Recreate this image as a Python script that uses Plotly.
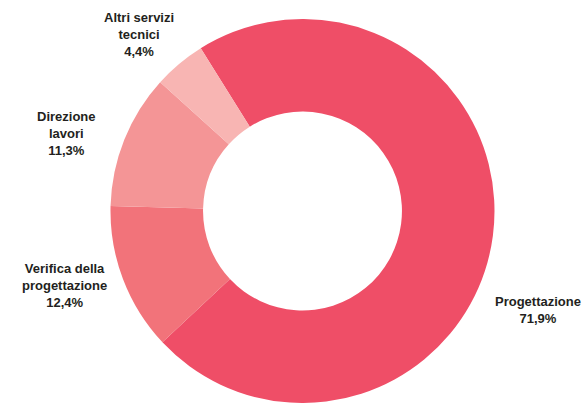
import plotly.graph_objects as go

# Shares of technical services (percent)
categories = ["Progettazione", "Verifica della progettazione", "Direzione lavori", "Altri servizi tecnici"]
values = [71.9, 12.4, 11.3, 4.4]
label_lines = [
    ["Progettazione"],
    ["Verifica della", "progettazione"],
    ["Direzione", "lavori"],
    ["Altri servizi", "tecnici"],
]
colors = ["#EF4E67", "#F2737A", "#F49596", "#F8B5B3"]

W, H = 586, 403

fig = go.Figure(
    go.Pie(
        labels=categories,
        values=values,
        hole=0.518,
        sort=False,
        direction="clockwise",
        rotation=-32,
        marker=dict(colors=colors, line=dict(width=0)),
        textinfo="none",
        hoverinfo="label+percent",
        showlegend=False,
        domain=dict(x=[110.5 / W, 494.5 / W], y=[0, 384 / H]),
    )
)

# Label positions in pixels (centre of each text block)
label_pos = [(538, 310), (64, 285), (66, 133), (139, 34)]


def fmt(v):
    return f"{v:.1f}".replace(".", ",") + "%"


for lines, v, (px, py) in zip(label_lines, values, label_pos):
    fig.add_annotation(
        x=px / W,
        y=1 - py / H,
        xref="paper",
        yref="paper",
        text="<br>".join(lines + [fmt(v)]),
        showarrow=False,
        xanchor="center",
        yanchor="middle",
        align="center",
        font=dict(family="Liberation Sans, Arial, sans-serif", size=13, color="#231F20"),
    )

fig.update_layout(
    width=W,
    height=H,
    margin=dict(l=0, r=0, t=0, b=0),
    paper_bgcolor="white",
    plot_bgcolor="white",
    font=dict(family="Liberation Sans, Arial, sans-serif", size=13, color="#231F20"),
)

# Bold labels
for a in fig.layout.annotations:
    a.text = "<b>" + a.text.replace("<br>", "</b><br><b>") + "</b>"

fig.write_html("out.html")
